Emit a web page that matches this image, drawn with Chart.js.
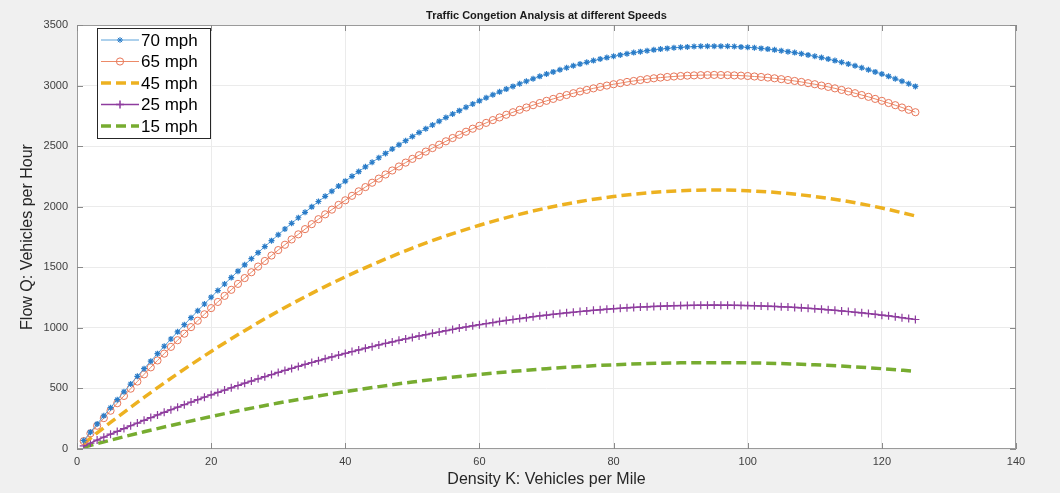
<!DOCTYPE html>
<html>
<head>
<meta charset="utf-8">
<title>Traffic Congetion Analysis at different Speeds</title>
<script src="https://cdn.jsdelivr.net/npm/chart.js@4.4.0/dist/chart.umd.min.js"></script>
<style>
  html, body { margin: 0; padding: 0; background: #f0f0f0; }
  #wrap { width: 1060px; height: 493px; }
</style>
</head>
<body>
<div id="wrap"><canvas id="flowChart" width="1060" height="493"></canvas></div>
<script>
// Density K (vehicles per mile) for the marker series
const densityK = [
  1, 2, 3, 4, 5, 6, 7, 8, 9, 10, 11, 12, 13, 14, 15, 16, 17, 18, 19, 20,
  21, 22, 23, 24, 25, 26, 27, 28, 29, 30, 31, 32, 33, 34, 35, 36, 37, 38, 39, 40,
  41, 42, 43, 44, 45, 46, 47, 48, 49, 50, 51, 52, 53, 54, 55, 56, 57, 58, 59, 60,
  61, 62, 63, 64, 65, 66, 67, 68, 69, 70, 71, 72, 73, 74, 75, 76, 77, 78, 79, 80,
  81, 82, 83, 84, 85, 86, 87, 88, 89, 90, 91, 92, 93, 94, 95, 96, 97, 98, 99, 100,
  101, 102, 103, 104, 105, 106, 107, 108, 109, 110, 111, 112, 113, 114, 115, 116, 117, 118, 119, 120,
  121, 122, 123, 124, 125
];

const flow70 = [
  70, 139, 207, 274, 341, 407, 472, 536, 600, 663, 725, 787, 848, 908, 967, 1026, 1084, 1141, 1197, 1253,
  1308, 1362, 1415, 1468, 1520, 1571, 1621, 1671, 1720, 1768, 1816, 1863, 1909, 1954, 1999, 2043, 2086, 2128, 2170, 2211,
  2251, 2290, 2329, 2367, 2404, 2440, 2476, 2511, 2545, 2579, 2612, 2644, 2675, 2706, 2736, 2765, 2793, 2821, 2848, 2874,
  2899, 2924, 2948, 2971, 2993, 3015, 3036, 3056, 3076, 3095, 3113, 3130, 3147, 3163, 3178, 3192, 3206, 3219, 3231, 3242,
  3253, 3263, 3272, 3280, 3288, 3295, 3301, 3307, 3312, 3316, 3319, 3322, 3324, 3325, 3325, 3325, 3324, 3322, 3319, 3316,
  3312, 3307, 3301, 3295, 3288, 3280, 3272, 3263, 3253, 3242, 3231, 3219, 3206, 3192, 3178, 3163, 3147, 3130, 3113, 3095,
  3076, 3056, 3036, 3015, 2993
];

const flow65 = [
  65, 129, 192, 255, 316, 378, 438, 498, 557, 616, 674, 731, 787, 843, 898, 952, 1006, 1059, 1112, 1163,
  1214, 1264, 1314, 1363, 1411, 1459, 1506, 1552, 1597, 1642, 1686, 1730, 1772, 1815, 1856, 1897, 1937, 1976, 2015, 2053,
  2090, 2127, 2162, 2198, 2232, 2266, 2299, 2332, 2364, 2395, 2425, 2455, 2484, 2512, 2540, 2567, 2594, 2619, 2644, 2668,
  2692, 2715, 2737, 2759, 2780, 2800, 2819, 2838, 2856, 2874, 2890, 2907, 2922, 2937, 2951, 2964, 2977, 2989, 3000, 3011,
  3020, 3030, 3038, 3046, 3053, 3060, 3066, 3071, 3075, 3079, 3082, 3084, 3086, 3087, 3088, 3087, 3086, 3084, 3082, 3079,
  3075, 3071, 3066, 3060, 3053, 3046, 3038, 3030, 3020, 3011, 3000, 2989, 2977, 2964, 2951, 2937, 2922, 2907, 2890, 2874,
  2856, 2838, 2819, 2800, 2780
];

const flow25 = [
  25, 49, 74, 98, 122, 145, 169, 192, 214, 237, 259, 281, 303, 324, 345, 366, 387, 407, 428, 447,
  467, 486, 505, 524, 543, 561, 579, 597, 614, 632, 649, 665, 682, 698, 714, 729, 745, 760, 775, 789,
  804, 818, 832, 845, 859, 872, 884, 897, 909, 921, 933, 944, 955, 966, 977, 987, 998, 1007, 1017, 1026,
  1035, 1044, 1053, 1061, 1069, 1077, 1084, 1092, 1099, 1105, 1112, 1118, 1124, 1129, 1135, 1140, 1145, 1149, 1154, 1158,
  1162, 1165, 1169, 1172, 1174, 1177, 1179, 1181, 1183, 1184, 1185, 1186, 1187, 1187, 1188, 1187, 1187, 1186, 1185, 1184,
  1183, 1181, 1179, 1177, 1174, 1172, 1169, 1165, 1162, 1158, 1154, 1149, 1145, 1140, 1135, 1129, 1124, 1118, 1112, 1105,
  1099, 1092, 1084, 1077, 1069
];

// Dashed series (no markers) read at coarser density steps
const dashK = [1, 5, 10, 15, 20, 25, 30, 35, 40, 45, 50, 55, 60, 65, 70, 75, 80, 85, 90, 95, 100, 105, 110, 115, 120, 125];
const flow45 = [45, 219, 426, 622, 805, 977, 1137, 1285, 1421, 1545, 1658, 1759, 1847, 1924, 1989, 2043, 2084, 2114, 2132, 2138, 2132, 2114, 2084, 2043, 1989, 1924];
const flow15 = [15, 73, 142, 207, 268, 326, 379, 428, 474, 515, 553, 586, 616, 641, 663, 681, 695, 705, 711, 713, 711, 705, 695, 681, 663, 641];

const seriesLabels = ['70 mph', '65 mph', '45 mph', '25 mph', '15 mph'];

const chartTitle = 'Traffic Congetion Analysis at different Speeds';
const xTitle = 'Density K: Vehicles per Mile';
const yTitle = 'Flow Q: Vehicles per Hour';

function toPoints(xs, ys) {
  return xs.map((x, i) => ({ x: x, y: ys[i] }));
}

// Title, axis labels, inward ticks, box and the legend inside the axes
const matlabLook = {
  id: 'matlabLook',
  beforeDraw(chart) {
    const { ctx, chartArea: a } = chart;
    ctx.save();
    ctx.fillStyle = '#ffffff';
    ctx.fillRect(a.left, a.top, a.right - a.left, a.bottom - a.top);
    ctx.restore();
  },
  afterDraw(chart) {
    const { ctx, chartArea: a, scales } = chart;
    ctx.save();

    // box
    ctx.strokeStyle = '#9a9a9a';
    ctx.lineWidth = 1;
    ctx.strokeRect(a.left + 0.5, a.top + 0.5, a.right - a.left - 1, a.bottom - a.top - 1);

    // inward tick marks
    ctx.strokeStyle = '#8a8a8a';
    ctx.beginPath();
    scales.x.ticks.forEach(t => {
      const px = Math.round(scales.x.getPixelForValue(t.value)) + 0.5;
      ctx.moveTo(px, a.bottom); ctx.lineTo(px, a.bottom - 6);
      ctx.moveTo(px, a.top); ctx.lineTo(px, a.top + 6);
    });
    scales.y.ticks.forEach(t => {
      const py = Math.round(scales.y.getPixelForValue(t.value)) + 0.5;
      ctx.moveTo(a.left, py); ctx.lineTo(a.left + 6, py);
      ctx.moveTo(a.right, py); ctx.lineTo(a.right - 6, py);
    });
    ctx.stroke();

    // title
    ctx.fillStyle = '#1a1a1a';
    ctx.font = 'bold 11px "Liberation Sans", Arial, sans-serif';
    ctx.textAlign = 'center';
    ctx.textBaseline = 'middle';
    ctx.fillText(chartTitle, (a.left + a.right) / 2, 16);

    // axis titles
    ctx.fillStyle = '#262626';
    ctx.font = '16px "Liberation Sans", Arial, sans-serif';
    ctx.fillText(xTitle, (a.left + a.right) / 2, 480);
    ctx.translate(28, (a.top + a.bottom) / 2);
    ctx.rotate(-Math.PI / 2);
    ctx.fillText(yTitle, 0, 0);
    ctx.setTransform(1, 0, 0, 1, 0, 0);

    // legend
    const lx = a.left + 20, ly = a.top + 3, lw = 113, lh = 110;
    ctx.fillStyle = '#ffffff';
    ctx.fillRect(lx, ly, lw, lh);
    ctx.strokeStyle = '#262626';
    ctx.lineWidth = 1;
    ctx.strokeRect(lx + 0.5, ly + 0.5, lw, lh);

    chart.data.datasets.forEach((ds, i) => {
      const y = ly + 12 + i * 21.5;
      ctx.save();
      ctx.strokeStyle = ds.borderColor;
      ctx.lineWidth = ds.borderWidth;
      ctx.setLineDash(ds.borderDash || []);
      ctx.beginPath();
      ctx.moveTo(lx + 4, y);
      ctx.lineTo(lx + 42, y);
      ctx.stroke();
      ctx.setLineDash([]);
      if (ds.pointRadius > 0) {
        ctx.strokeStyle = ds.pointBorderColor;
        ctx.fillStyle = ds.pointBackgroundColor;
        Chart.helpers.drawPoint(ctx, {
          pointStyle: ds.pointStyle,
          radius: ds.pointRadius,
          rotation: 0,
          borderWidth: ds.pointBorderWidth
        }, lx + 23, y);
      }
      ctx.restore();
      ctx.fillStyle = '#000000';
      ctx.font = '17px "Liberation Sans", Arial, sans-serif';
      ctx.textAlign = 'left';
      ctx.fillText(ds.label, lx + 44, y + 1);
    });

    ctx.restore();
  }
};

const ctx = document.getElementById('flowChart').getContext('2d');

new Chart(ctx, {
  type: 'line',
  data: {
    datasets: [
      {
        label: seriesLabels[0],
        data: toPoints(densityK, flow70),
        borderColor: '#5aa2da',
        borderWidth: 1,
        pointStyle: 'star',
        pointRadius: 3,
        pointBorderColor: '#2a7cc8',
        pointBackgroundColor: '#2a7cc8',
        pointBorderWidth: 1.2,
        tension: 0
      },
      {
        label: seriesLabels[1],
        data: toPoints(densityK, flow65),
        borderColor: '#ec8a68',
        borderWidth: 1,
        pointStyle: 'circle',
        pointRadius: 3.6,
        pointBorderColor: '#e8775a',
        pointBackgroundColor: 'rgba(0,0,0,0)',
        pointBorderWidth: 1,
        tension: 0
      },
      {
        label: seriesLabels[2],
        data: toPoints(dashK, flow45),
        borderColor: '#EDB120',
        borderWidth: 3.5,
        borderDash: [10, 5],
        pointRadius: 0,
        cubicInterpolationMode: 'monotone'
      },
      {
        label: seriesLabels[3],
        data: toPoints(densityK, flow25),
        borderColor: '#8e3c9e',
        borderWidth: 1.5,
        pointStyle: 'cross',
        pointRadius: 4,
        pointBorderColor: '#8e3c9e',
        pointBackgroundColor: '#8e3c9e',
        pointBorderWidth: 1.2,
        tension: 0
      },
      {
        label: seriesLabels[4],
        data: toPoints(dashK, flow15),
        borderColor: '#77AC30',
        borderWidth: 3.5,
        borderDash: [10, 5],
        pointRadius: 0,
        cubicInterpolationMode: 'monotone'
      }
    ]
  },
  options: {
    responsive: false,
    animation: false,
    devicePixelRatio: 1,
    layout: {
      padding: { top: 25, right: 44, left: 0, bottom: 0 }
    },
    plugins: {
      legend: { display: false },
      title: { display: false },
      tooltip: { enabled: false }
    },
    scales: {
      x: {
        type: 'linear',
        min: 0,
        max: 140,
        ticks: {
          stepSize: 20,
          color: '#404040',
          padding: 6,
          maxRotation: 0,
          callback: v => String(v),
          font: { size: 11, family: '"Liberation Sans", Arial, sans-serif' }
        },
        grid: { color: '#ebebeb', drawTicks: false },
        border: { display: false },
        afterFit(scale) { scale.height = 44; }
      },
      y: {
        min: 0,
        max: 3500,
        ticks: {
          stepSize: 500,
          color: '#404040',
          padding: 9,
          callback: v => String(v),
          font: { size: 11, family: '"Liberation Sans", Arial, sans-serif' }
        },
        grid: { color: '#ebebeb', drawTicks: false },
        border: { display: false },
        afterFit(scale) { scale.width = 77; }
      }
    }
  },
  plugins: [matlabLook]
});
</script>
</body>
</html>
